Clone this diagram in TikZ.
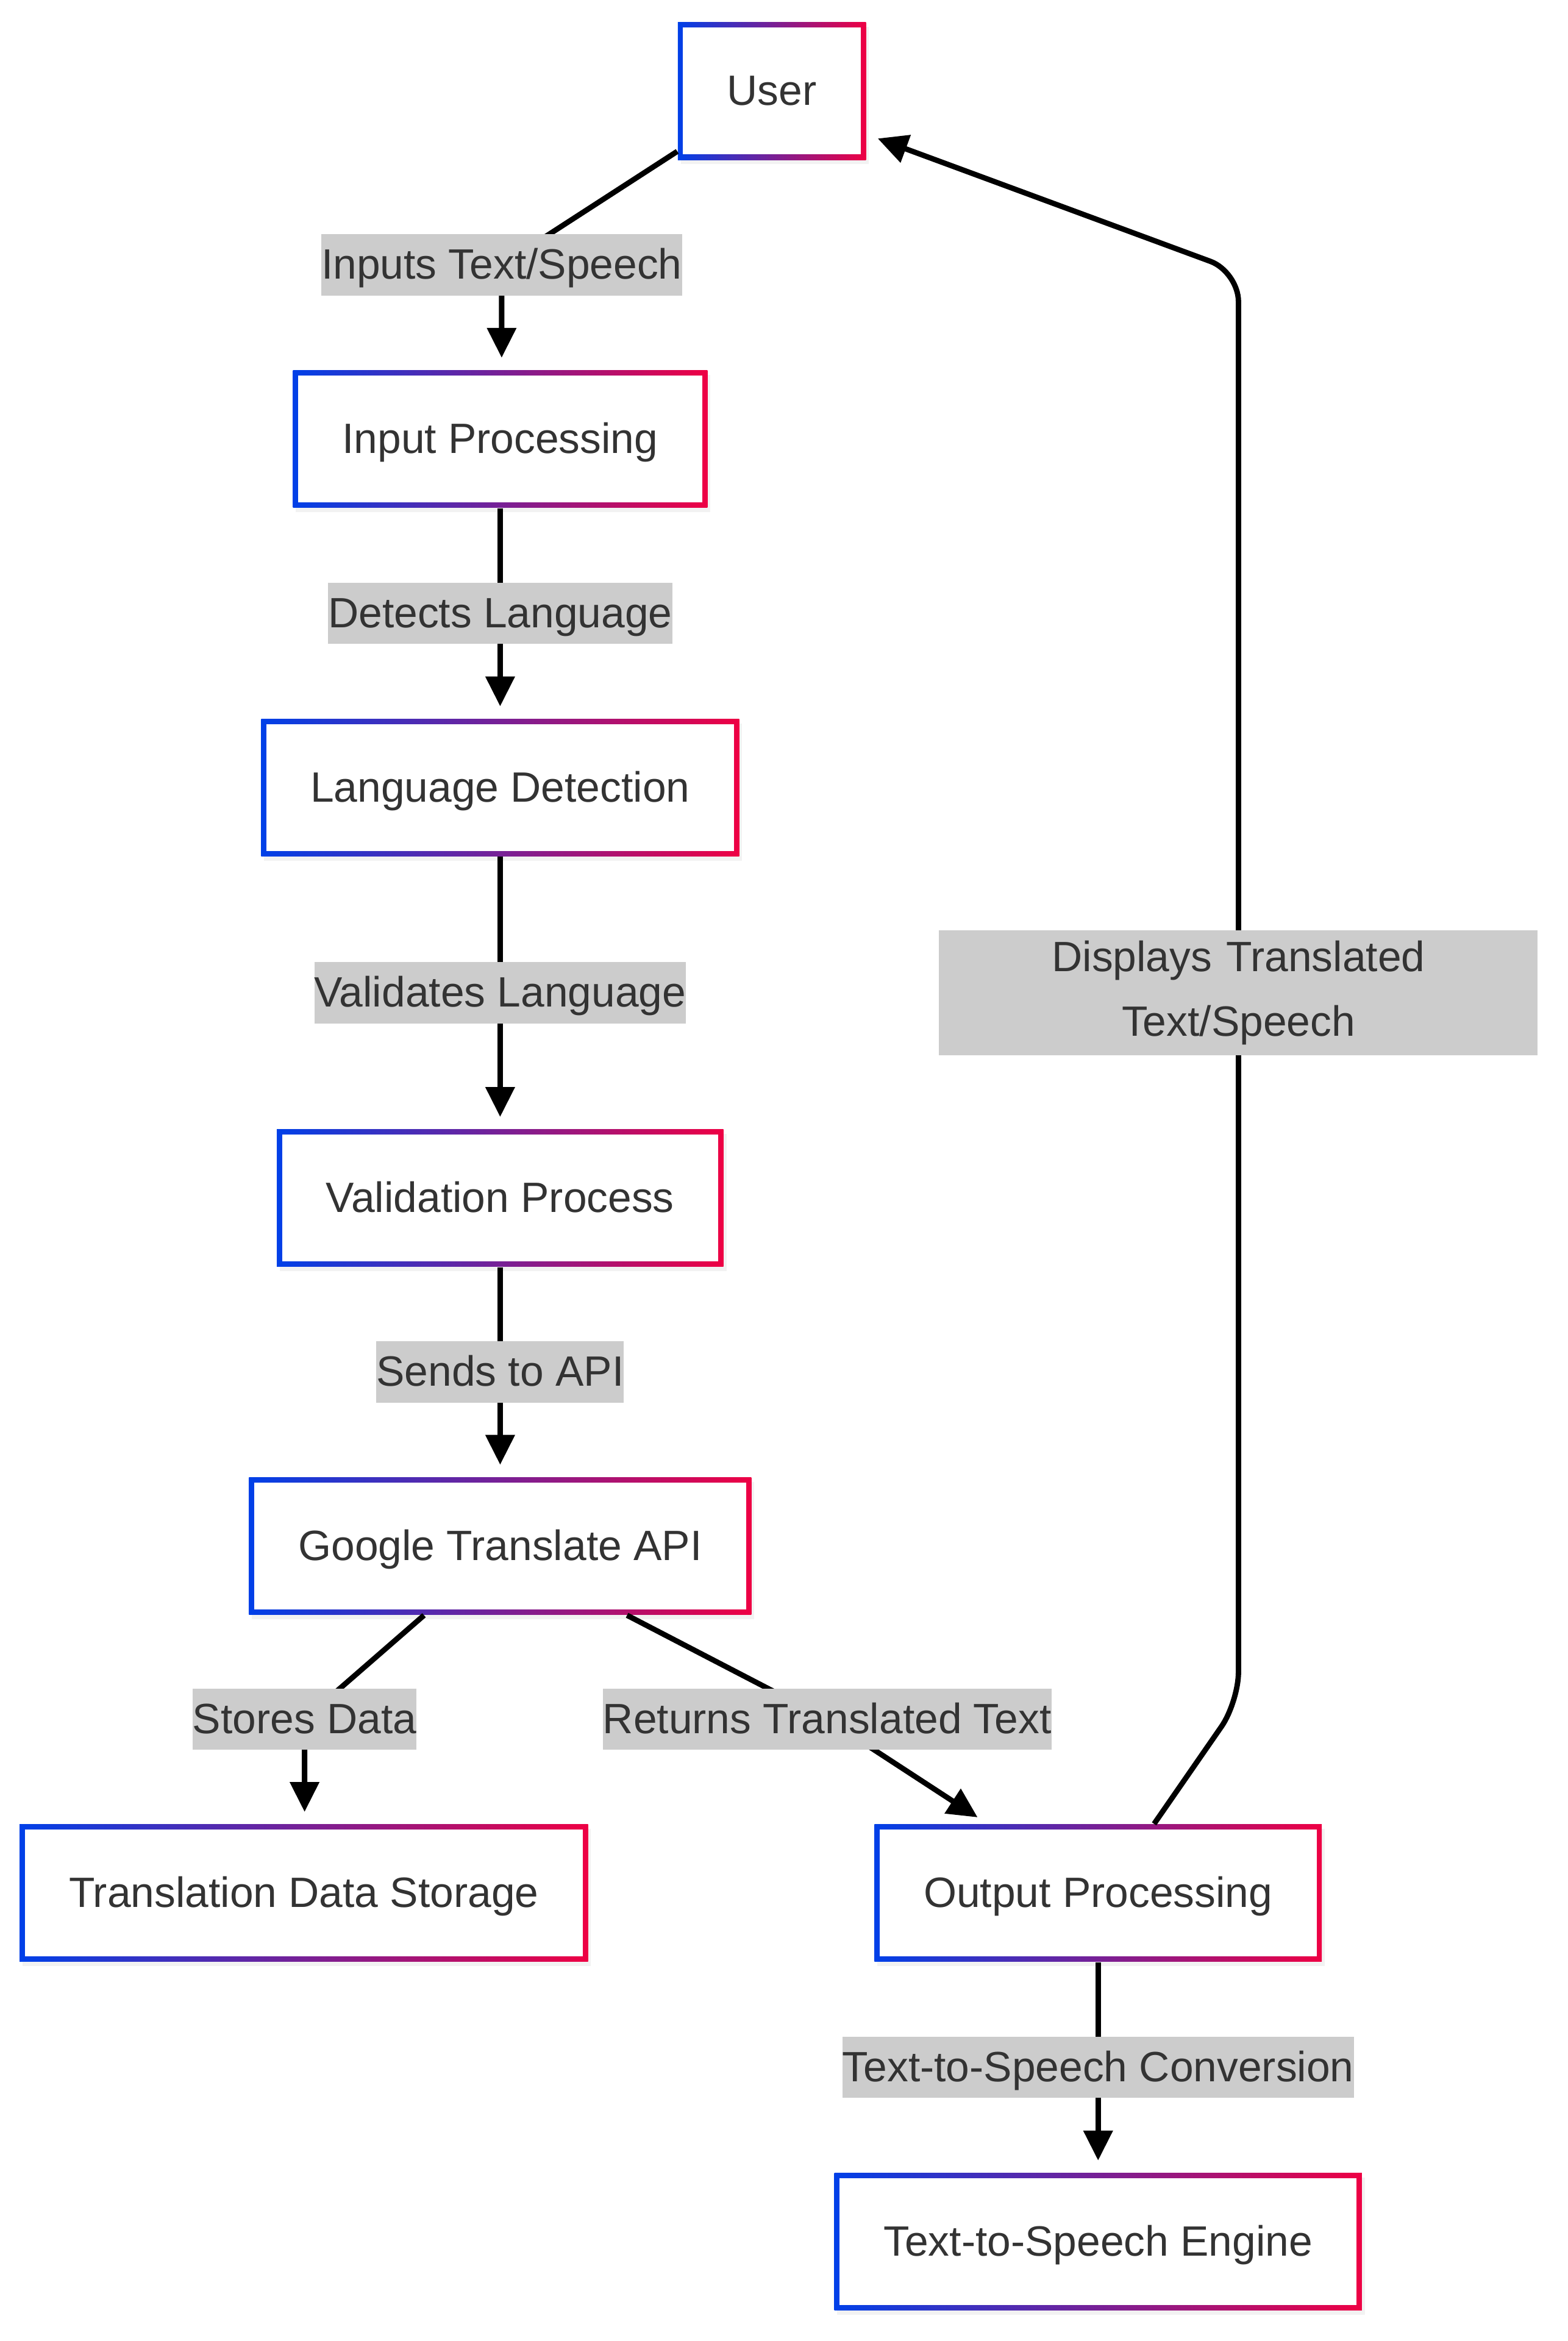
\documentclass[tikz,border=0pt]{standalone}
\usepackage{fontspec}
\setmainfont{Liberation Sans}
\usetikzlibrary{arrows.meta,shadows}
\definecolor{boxblue}{HTML}{0040E8}
\definecolor{boxred}{HTML}{EE0044}
\definecolor{inkgray}{HTML}{333333}
\definecolor{labelgray}{HTML}{CCCCCC}

\begin{document}
\begin{tikzpicture}[x=0.5pt, y=0.5pt,
    stepbox/.style={rectangle, minimum height=46pt, inner xsep=16.5pt, text=inkgray,
      text height=11pt, text depth=1.5pt, font=\fontsize{14.2}{17}\selectfont,
      drop shadow={opacity=0.1, shadow xshift=1pt, shadow yshift=-1.5pt},
      path picture={
        \shade[left color=boxblue, right color=boxred] (path picture bounding box.south west) rectangle (path picture bounding box.north east);
        \fill[white] ([shift={(1.75pt,1.75pt)}]path picture bounding box.south west) rectangle ([shift={(-1.75pt,-1.75pt)}]path picture bounding box.north east);
      }},
    flowlabel/.style={rectangle, fill=labelgray, text=inkgray, inner xsep=0pt, inner ysep=0pt,
      minimum height=20.5pt, font=\fontsize{14.2}{21.5}\selectfont},
    flowtag/.style={flowlabel, text height=11pt, text depth=1.5pt},
    flowarrow/.style={line width=1.8pt, -{Triangle[length=10pt, width=9.5pt]}, shorten >=4pt}]

    \useasboundingbox (0,0) rectangle (1050,-1568);

    % process boxes
    \node[stepbox] (user) at (517,-61) {User};
    \node[stepbox] (inproc) at (335,-294) {Input Processing};
    \node[stepbox] (langdet) at (335,-527.5) {Language Detection};
    \node[stepbox] (valproc) at (335,-802.5) {Validation Process};
    \node[stepbox] (gapi) at (335,-1035.5) {Google Translate API};
    \node[stepbox] (store) at (203.5,-1268) {Translation Data Storage};
    \node[stepbox] (outproc) at (735.5,-1268) {Output Processing};
    \node[stepbox] (ttseng) at (735.5,-1501.5) {Text-to-Speech Engine};

    % label centres and bends
    \coordinate (inputs) at (336,-177.5);
    \coordinate (stores) at (204,-1151.5);
    \coordinate (returns) at (554,-1151.5);
    \coordinate (displays) at (829.5,-665);
    \coordinate (bendlow) at (829.5,-1140);
    \coordinate (bendhigh) at (829.5,-182);

    % connectors
    \draw[flowarrow, rounded corners=6pt] ([yshift=3pt]user.south west) -- (inputs) -- (inputs |- inproc.north);
    \draw[flowarrow] (inproc) -- node[flowtag] {Detects Language} (langdet);
    \draw[flowarrow] (langdet) -- node[flowtag] {Validates Language} (valproc);
    \draw[flowarrow] (valproc) -- node[flowtag] {Sends to API} (gapi);
    \draw[flowarrow, rounded corners=6pt] ([xshift=-25.5pt]gapi.south) -- (stores) -- (stores |- store.north);
    \draw[flowarrow, rounded corners=6pt] ([xshift=42.5pt]gapi.south) -- (returns) -- ([xshift=-37pt]outproc.north);
    \draw[flowarrow, rounded corners=10pt] ([xshift=18.75pt]outproc.north) -- (bendlow) -- (bendhigh) -- ([yshift=-14.5pt]user.east);
    \draw[flowarrow] (outproc) -- node[flowtag] {Text-to-Speech Conversion} (ttseng);

    % labels on angled connectors
    \node[flowtag] (inputsLbl) at (inputs) {Inputs Text/Speech};
    \node[flowtag] (storesLbl) at (stores) {Stores Data};
    \node[flowtag] (returnsLbl) at (returns) {Returns Translated Text};
    \node[flowlabel, text width=200.5pt, align=center, minimum height=42pt] (displaysLbl) at (displays) {Displays Translated\\Text/Speech};
\end{tikzpicture}
\end{document}
